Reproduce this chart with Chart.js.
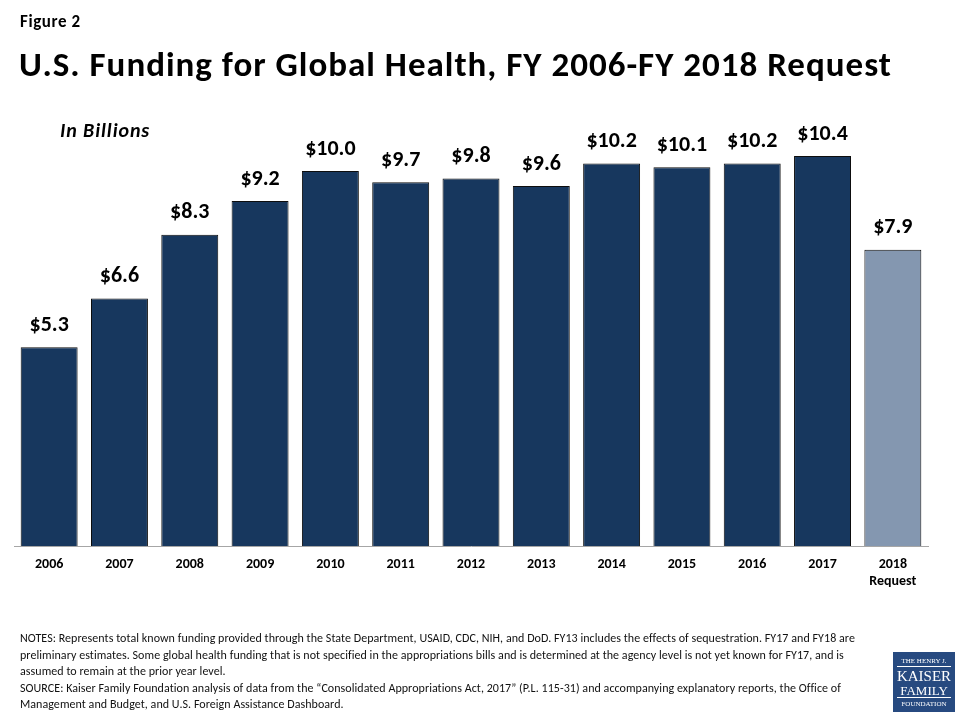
<!DOCTYPE html>
<html><head><meta charset="utf-8">
<script src="https://cdn.jsdelivr.net/npm/chart.js@4/dist/chart.umd.min.js"></script>
<style>
html,body{margin:0;padding:0;background:#fff;}
#wrap{position:relative;width:960px;height:720px;overflow:hidden;font-family:Carlito,Lato,"Open Sans",sans-serif;color:#000;}
#c{position:absolute;left:0;top:0;}
.t{position:absolute;white-space:nowrap;}
#fig{left:20px;top:11px;font-size:17px;font-weight:bold;letter-spacing:0.6px;}
#title{left:19px;top:43px;font-size:35px;font-weight:bold;letter-spacing:1px;}
#unit{left:60px;top:118px;font-size:20px;font-weight:bold;font-style:italic;letter-spacing:0.9px;}
#notes{left:20px;top:630px;font-size:12px;line-height:16.5px;color:#111;letter-spacing:0.05px;}
#logo{position:absolute;left:893px;top:652px;width:62px;height:60px;background:#274a80;color:#fff;font-family:"Liberation Serif",serif;text-align:center;}
#logo div{position:absolute;left:0;width:62px;white-space:nowrap;}
</style></head>
<body><div id="wrap">
<canvas id="c" width="960" height="720"></canvas>
<div class="t" id="fig">Figure 2</div>
<div class="t" id="title">U.S. Funding for Global Health, FY 2006-FY 2018 Request</div>
<div class="t" id="unit">In Billions</div>
<div class="t" id="notes">NOTES: Represents total known funding provided through the State Department, USAID, CDC, NIH, and DoD. FY13 includes the effects of sequestration. FY17 and FY18 are<br>preliminary estimates. Some global health funding that is not specified in the appropriations bills and is determined at the agency level is not yet known for FY17, and is<br>assumed to remain at the prior year level.<br>SOURCE: Kaiser Family Foundation analysis of data from the “Consolidated Appropriations Act, 2017” (P.L. 115-31) and accompanying explanatory reports, the Office of<br>Management and Budget, and U.S. Foreign Assistance Dashboard.</div>
<div id="logo">
<div style="top:5px;font-size:7px;">THE HENRY J.</div>
<div style="top:14px;left:4px;width:54px;border-top:1px solid #fff;"></div>
<div style="top:16px;font-size:15px;">KAISER</div>
<div style="top:31px;font-size:13px;">FAMILY</div>
<div style="top:45px;left:4px;width:54px;border-top:1px solid #fff;"></div>
<div style="top:48px;font-size:7px;">FOUNDATION</div>
</div>
</div>
<script>
const categories = ["2006","2007","2008","2009","2010","2011","2012","2013","2014","2015","2016","2017",["2018","Request"]];
const funding = [5.3, 6.6, 8.3, 9.2, 10.0, 9.7, 9.8, 9.6, 10.2, 10.1, 10.2, 10.4, 7.9];
const barColors = ["#17375e","#17375e","#17375e","#17375e","#17375e","#17375e","#17375e","#17375e","#17375e","#17375e","#17375e","#17375e","#8497b0"];

const FONT = 'Carlito, Lato, "Open Sans", sans-serif';
const labelPlugin = {
  id: 'valueLabels',
  afterDatasetsDraw(chart) {
    const ctx = chart.ctx;
    const meta = chart.getDatasetMeta(0);
    ctx.save();
    ctx.font = 'bold 22px ' + FONT;
    ctx.fillStyle = '#000';
    ctx.textAlign = 'center';
    ctx.textBaseline = 'middle';
    meta.data.forEach((bar, i) => {
      ctx.fillText('$' + funding[i].toFixed(1), bar.x, bar.y - 22);
    });
    ctx.restore();
  }
};

new Chart(document.getElementById('c'), {
  type: 'bar',
  data: {
    labels: categories,
    datasets: [{
      data: funding,
      backgroundColor: barColors,
      borderColor: '#0d0d0d',
      borderWidth: 1,
      barPercentage: 0.81,
      categoryPercentage: 1.0
    }]
  },
  options: {
    responsive: false,
    animation: false,
    layout: { padding: { left: 14, right: 32, top: 96, bottom: 114 } },
    plugins: { legend: { display: false }, tooltip: { enabled: false } },
    scales: {
      x: {
        grid: { display: false, drawTicks: false },
        border: { display: true, color: '#a6a6a6', width: 1 },
        ticks: { color: '#000', font: { family: FONT, size: 14, weight: 'bold' }, padding: 10, maxRotation: 0 },
        afterFit(scale) { scale.height = 60; }
      },
      y: { display: false, min: 0, max: 12 }
    }
  },
  plugins: [labelPlugin]
});
</script>
</body></html>
